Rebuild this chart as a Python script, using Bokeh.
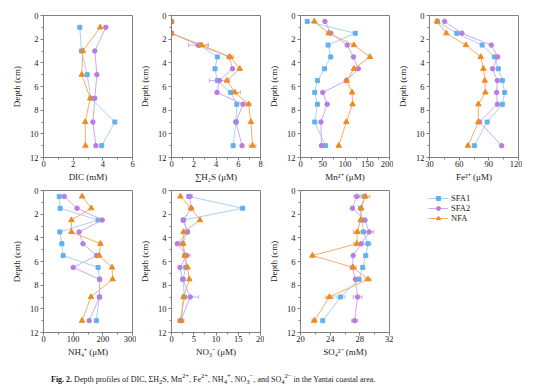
from bokeh.plotting import figure
from bokeh.layouts import column, row
from bokeh.models import (Range1d, FixedTicker, ColumnDataSource, Whisker, TeeHead,
                          Legend, LegendItem, Div)
from bokeh.embed import file_html
from bokeh.resources import INLINE

# ---------------- data ----------------
depth_dic = [1, 3, 5, 7, 9, 11]
depth = [0.5, 1.5, 2.5, 3.5, 4.5, 5.5, 6.5, 7.5, 9, 11]

dic_sfa1 = [2.45, 2.56, 2.94, 3.2, 4.81, 3.93]
dic_sfa2 = [4.2, 3.46, 3.6, 3.46, 3.33, 3.53]
dic_nfa = [3.82, 2.65, 2.58, 3.15, 2.81, 2.83]

h2s_sfa1 = [0, 0, 2.5, 4.12, 3.91, 4.12, 5.3, 5.87, 5.8, 5.54]
h2s_sfa2 = [0, 0, 2.43, 5.2, 5.48, 4.3, 4.09, 6.43, 5.8, 6.34]
h2s_nfa = [0, 0, 2.7, 5.27, 6.13, 4.98, 5.69, 6.93, 7.14, 7.29]
h2s_err_sfa1 = [0, 0, 0, 0, 0, 0, 0, 0, 0, 0]
h2s_err_sfa2 = [0, 0, 0.9, 0, 0, 0.9, 0, 0, 0, 0]
h2s_err_nfa = [0, 0, 0.5, 0.3, 0, 0, 0.5, 0.2, 0, 0.3]

mn_sfa1 = [15, 123, 62, 68, 54, 38, 32, 38, 32, 56]
mn_sfa2 = [55, 68, 105, 119, 130, 103, 50, 60, 46, 47]
mn_nfa = [31, 63, 120, 156, 120, 104, 116, 117, 103, 86]

fe_sfa1 = [38, 57.6, 83.2, 95.8, 99.6, 103.7, 106, 103.7, 88.3, 75.3]
fe_sfa2 = [45.3, 62.7, 92.5, 99, 93.8, 98.6, 97.9, 98.6, 80.5, 103]
fe_nfa = [37.5, 47, 66.8, 81.8, 84.5, 85.9, 86.5, 79.4, 79.4, 68.9]

nh4_sfa1 = [53, 56, 184, 55, 62, 66, 184, 189, 188, 178]
nh4_sfa2 = [70, 113, 198, 120, 133, 179, 100, 189, 189, 154]
nh4_nfa = [130, 161, 94, 94, 192, 188, 231, 233, 160, 130]

no3_sfa1 = [3.9, 16, 2.6, 3.5, 2.5, 3.0, 3.2, 2.6, 2.9, 2.1]
no3_sfa2 = [4.1, 4.4, 2.7, 3.6, 1.3, 3.4, 1.9, 2.5, 4.2, 2.1]
no3_nfa = [2.0, 4.4, 6.4, 2.7, 2.6, 3.0, 3.6, 4.0, 2.7, 2.1]
no3_err_sfa1 = [0, 0, 0, 0, 0, 0, 0, 0, 0, 0]
no3_err_sfa2 = [0.6, 0, 0, 0, 0, 0.8, 0, 0, 1.9, 0]
no3_err_nfa = [0, 0, 0, 0, 0, 0, 0, 0, 0, 0.7]

so4_sfa1 = [28.6, 28.1, 28.3, 28.5, 29.1, 28.8, 28.4, 27.9, 25.4, 23.0]
so4_sfa2 = [27.6, 27.0, 28.7, 29.25, 28.2, 27.1, 27.0, 27.4, 27.7, 27.3]
so4_nfa = [28.75, 28.2, 28.1, 27.65, 27.6, 21.6, 27.1, 29.1, 23.9, 21.85]
so4_err_sfa1 = [0, 0, 0, 0, 0.4, 0, 0, 0, 0.6, 0]
so4_err_sfa2 = [0.4, 0, 0, 0.6, 0, 0, 0, 0, 0.6, 0.4]
so4_err_nfa = [0.6, 0, 0, 0.5, 0.4, 0, 0.4, 0.4, 0.5, 0.3]

depth_ticks = [0, 2, 4, 6, 8, 10, 12]
depth_minor = [1, 3, 5, 7, 9, 11]

series_names = ["SFA1", "SFA2", "NFA"]

# ---------------- style ----------------
FONT = "Liberation Serif"
MARKER = {"SFA1": "square", "SFA2": "circle", "NFA": "triangle"}
MCOLOR = {"SFA1": "#63B0EE", "SFA2": "#B77DE0", "NFA": "#F08A20"}
LCOLOR = {"SFA1": "#A9D2F3", "SFA2": "#CFAAEA", "NFA": "#F4AE66"}
MSIZE = {"SFA1": 4, "SFA2": 4.5, "NFA": 5.5}
LEGSIZE = {"SFA1": 8, "SFA2": 9, "NFA": 10}
AXCOL = "#808080"


def panel(width, left, height, top, bottom, xr, xticks, xminor, label, depths, vals, errs=None):
    p = figure(width=width, height=height, output_backend="svg", toolbar_location=None,
               x_range=Range1d(*xr), y_range=Range1d(12, 0),
               min_border_left=left, min_border_right=width - left - 89,
               min_border_top=top, min_border_bottom=bottom)
    p.grid.visible = False
    p.outline_line_color = AXCOL
    p.outline_line_width = 1
    p.xaxis.ticker = FixedTicker(ticks=xticks, minor_ticks=xminor)
    p.yaxis.ticker = FixedTicker(ticks=depth_ticks, minor_ticks=depth_minor)
    p.xaxis.axis_label = label
    p.yaxis.axis_label = "Depth (cm)"
    for ax in (p.xaxis[0], p.yaxis[0]):
        ax.axis_line_color = AXCOL
        ax.major_tick_line_color = AXCOL
        ax.minor_tick_line_color = AXCOL
        ax.major_tick_out = 3
        ax.major_tick_in = 0
        ax.minor_tick_out = 2
        ax.minor_tick_in = 0
        ax.major_label_text_font = FONT
        ax.major_label_text_font_size = "8.5px"
        ax.major_label_text_color = "#222222"
        ax.axis_label_text_font = FONT
        ax.axis_label_text_font_size = "9px"
        ax.axis_label_text_font_style = "normal"
        ax.axis_label_text_color = "#222222"
    p.xaxis.major_label_standoff = 0
    p.xaxis.axis_label_standoff = 2
    p.yaxis.major_label_standoff = 2
    p.yaxis.axis_label_standoff = 5

    for i, name in enumerate(series_names):
        xs = vals[i]
        src = ColumnDataSource(dict(x=xs, y=depths))
        if errs is not None:
            e = errs[i]
            keep = [k for k in range(len(xs)) if e[k] > 0]
            esrc = ColumnDataSource(dict(
                y=[depths[k] for k in keep],
                lo=[xs[k] - e[k] for k in keep],
                hi=[xs[k] + e[k] for k in keep]))
            w = Whisker(source=esrc, base="y", lower="lo", upper="hi", dimension="width",
                        line_color=LCOLOR[name], line_width=1,
                        lower_head=TeeHead(size=4, line_color=LCOLOR[name]),
                        upper_head=TeeHead(size=4, line_color=LCOLOR[name]))
            p.add_layout(w)
        p.line("x", "y", source=src, line_color=LCOLOR[name], line_width=1)
        p.scatter("x", "y", source=src, marker=MARKER[name], size=MSIZE[name],
                  fill_color=MCOLOR[name], line_color=MCOLOR[name])
    return p


# row 1 (page has no margin in Bokeh's template, so offsets include the 8px)
p_dic = panel(136, 43, 184, 15, 27, (0, 6), [0, 2, 4, 6], [1, 3, 5], "DIC (mM)",
              depth_dic, [dic_sfa1, dic_sfa2, dic_nfa])
p_h2s = panel(128, 35, 184, 15, 27, (0, 8), [0, 2, 4, 6, 8], [1, 3, 5, 7], "∑H₂S (μM)",
              depth, [h2s_sfa1, h2s_sfa2, h2s_nfa], [h2s_err_sfa1, h2s_err_sfa2, h2s_err_nfa])
p_mn = panel(129, 36, 184, 15, 27, (0, 200), [0, 50, 100, 150, 200], [25, 75, 125, 175],
             "Mn²⁺ (μM)", depth, [mn_sfa1, mn_sfa2, mn_nfa])
p_fe = panel(129, 36, 184, 15, 27, (30, 120), [30, 60, 90, 120], [45, 75, 105],
             "Fe²⁺ (μM)", depth, [fe_sfa1, fe_sfa2, fe_nfa])

# row 2
p_nh4 = panel(136, 43, 175, 6, 27, (0, 300), [0, 100, 200, 300], [50, 150, 250],
              "NH₄⁺ (μM)", depth, [nh4_sfa1, nh4_sfa2, nh4_nfa])
p_no3 = panel(128, 35, 175, 6, 27, (0, 20), [0, 5, 10, 15, 20], [2.5, 7.5, 12.5, 17.5],
              "NO₃⁻ (μM)", depth, [no3_sfa1, no3_sfa2, no3_nfa],
              [no3_err_sfa1, no3_err_sfa2, no3_err_nfa])
p_so4 = panel(129, 36, 175, 6, 27, (20, 32), [20, 24, 28, 32], [22, 26, 30],
              "SO₄²⁻ (mM)", depth, [so4_sfa1, so4_sfa2, so4_nfa],
              [so4_err_sfa1, so4_err_sfa2, so4_err_nfa])

# legend panel: the legend's renderers carry the SO4 series, which lie far outside
# this panel's (0, 1) ranges, so only the legend itself is seen
p_leg = figure(width=129, height=175, output_backend="svg", toolbar_location=None,
               x_axis_type=None, y_axis_type=None, x_range=Range1d(0, 1), y_range=Range1d(0, 1),
               min_border_left=32, min_border_right=8, min_border_top=6, min_border_bottom=27)
p_leg.grid.visible = False
p_leg.outline_line_color = None
items = []
for name, xs in zip(series_names, [so4_sfa1, so4_sfa2, so4_nfa]):
    src = ColumnDataSource(dict(x=xs, y=depth))
    lr = p_leg.line("x", "y", source=src, line_color=LCOLOR[name], line_width=1)
    sr = p_leg.scatter("x", "y", source=src, marker=MARKER[name], size=LEGSIZE[name],
                       fill_color=MCOLOR[name], line_color=MCOLOR[name])
    items.append(LegendItem(label=name, renderers=[lr, sr]))
leg = Legend(items=items, location="top_left", margin=3, padding=0, spacing=0,
             glyph_width=20, glyph_height=10, label_height=10, label_standoff=3,
             border_line_color=None, background_fill_alpha=0,
             label_text_font=FONT, label_text_font_size="8.5px", label_text_color="#222222")
p_leg.add_layout(leg)

caption = Div(
    text='<b>Fig. 2.</b> Depth profiles of DIC, ΣH<sub>2</sub>S, Mn<sup>2+</sup>, '
         'Fe<sup>2+</sup>, NH<sub>4</sub><sup>+</sup>, NO<sub>3</sub><sup>−</sup>, and '
         'SO<sub>4</sub><sup>2−</sup> in the Yantai coastal area.',
    width=440, height=26, margin=(0, 0, 0, 51),
    styles={"font-family": FONT, "font-size": "8px", "padding-top": "12px",
            "line-height": "9px", "color": "#222222"})

layout = column(row(p_dic, p_h2s, p_mn, p_fe), row(p_nh4, p_no3, p_so4, p_leg), caption)

open("out.html", "w").write(file_html(layout, INLINE))
